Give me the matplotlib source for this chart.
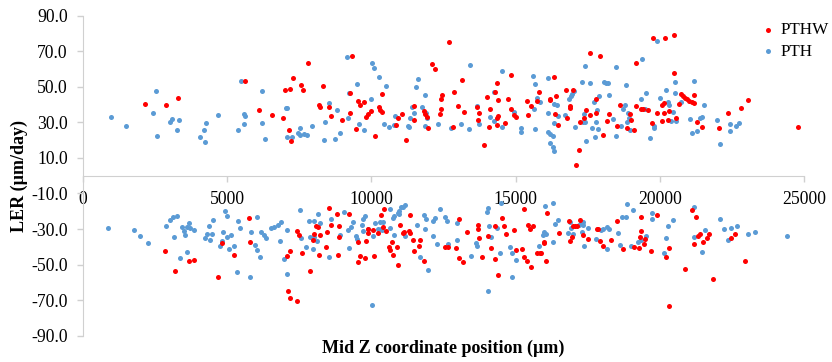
import matplotlib
matplotlib.use('Agg')
import matplotlib.pyplot as plt

# PTHW (red) - growth side, (mid Z position um, LER um/day)
pthw_up = [
    (2150, 40.1), (2870, 39.9), (3300, 43.9), (5630, 53.1), (6100, 37.1), (6540, 34.3),
    (6940, 32.4), (7000, 48.0), (7180, 48.6), (7270, 54.9), (7570, 51.2), (7640, 48.0),
    (7810, 63.2), (7130, 25.5), (7200, 19.7), (8200, 39.8), (8210, 38.5), (8330, 50.5),
    (8520, 38.6), (8590, 33.8), (8990, 31.5), (9270, 46.3), (9270, 35.3), (9320, 67.1),
    (9450, 26.4), (9550, 42.2), (9600, 39.9), (9740, 41.6), (9800, 32.8), (9870, 34.5),
    (9980, 36.4), (10140, 22.5), (10280, 38.6), (10290, 37.1), (10360, 46.1), (10360, 35.8),
    (10850, 28.3), (10920, 32.3), (11060, 34.5), (11190, 20.1), (11470, 31.5), (11490, 39.2),
    (11830, 36.4), (11870, 34.5), (11930, 33.0), (11970, 27.0), (12090, 62.6), (12190, 60.2),
    (12370, 34.7), (12410, 42.9), (12430, 37.3), (12450, 45.2), (12680, 75.4), (12840, 27.4),
    (12870, 47.1), (13020, 39.2), (13130, 54.0), (13220, 35.6),
    (13650, 38.5), (13680, 31.1), (13730, 35.3), (13900, 17.3), (14000, 44.5), (14080, 27.6),
    (14120, 37.3), (14280, 46.9), (14360, 52.1), (14390, 42.6), (14390, 33.8), (14370, 32.6),
    (14340, 28.7), (14630, 29.6), (14720, 42.9), (14850, 56.8), (14850, 37.3), (14930, 33.9),
    (15020, 32.8), (15400, 42.0), (15440, 34.3), (15530, 39.4), (15750, 42.2), (15800, 47.1),
    (16180, 42.4), (16200, 43.3), (16330, 55.3), (16350, 34.7), (16410, 44.6), (16480, 28.3),
    (16750, 48.0), (16780, 32.4), (16870, 39.0), (16880, 37.9), (16990, 48.4), (17100, 6.2),
    (17210, 14.6), (17220, 30.0), (17380, 32.4), (17430, 36.9), (17580, 69.2), (17590, 34.1),
    (17780, 35.4), (17790, 43.1), (17940, 67.1), (18040, 22.9), (18170, 30.9), (18230, 34.7),
    (18520, 27.9), (18610, 39.6), (18860, 26.8), (18970, 34.5), (19010, 31.3), (19120, 25.9),
    (19180, 63.4), (19190, 39.2), (19360, 37.3), (19430, 37.7), (19580, 37.1), (19720, 29.4),
    (19780, 77.5),
    (20170, 77.5), (20490, 79.3), (20490, 57.9), (20750, 45.9), (20820, 44.8), (20880, 43.9),
    (20940, 42.9), (21020, 42.0), (21100, 41.4), (21170, 41.1), (21180, 45.6), (20650, 40.1),
    (20090, 39.6), (20150, 41.1), (20330, 36.6), (19910, 35.5), (20150, 35.1), (20090, 30.9),
    (20280, 31.3), (20550, 32.3), (21300, 30.4), (21460, 27.4), (22040, 27.0), (22360, 35.1),
    (22820, 37.9), (23050, 42.6), (24800, 27.6),
]

# PTHW (red) - negative side
pthw_down = [
    (2850, -42.2), (3180, -53.8), (3680, -48.0), (3860, -47.2), (4690, -56.8), (4820, -37.9),
    (5240, -44.6), (5770, -23.8), (5790, -37.3),
    (7070, -45.0), (7120, -65.0), (7190, -68.8), (7190, -42.5), (7420, -30.9), (7430, -70.7),
    (7500, -33.5), (7600, -43.5), (7880, -53.6), (7970, -36.4), (8020, -32.8), (8070, -28.5),
    (8150, -28.9), (8180, -44.4), (8230, -33.5), (8440, -39.9), (8450, -31.9), (8530, -18.0),
    (8600, -27.9), (8810, -21.4), (8830, -44.6), (8880, -28.5), (8860, -34.5), (9220, -21.5),
    (9550, -37.3), (9550, -48.4), (9610, -45.4), (9780, -46.1), (9810, -36.9), (9870, -30.0),
    (9880, -32.2), (10040, -30.7), (10080, -45.2), (10230, -32.2), (10350, -22.1), (10390, -28.7),
    (10440, -18.7), (10520, -31.1), (10620, -39.9), (10660, -41.8), (10700, -37.5), (10750, -44.8),
    (10900, -40.3), (10910, -50.2), (10980, -27.9), (11100, -32.2), (11130, -31.9), (11290, -31.3),
    (11330, -32.0), (11350, -22.0), (11430, -36.0), (11460, -42.2), (11660, -39.4), (11700, -36.2),
    (11830, -48.0), (12560, -40.3), (12660, -40.3), (12930, -40.7), (13030, -24.4), (13040, -46.5),
    (13170, -48.5),
    (13320, -31.7), (13680, -27.7), (13690, -30.2), (13730, -35.0), (13830, -45.5), (14050, -33.9),
    (14130, -40.7), (14270, -28.5), (14270, -46.7), (14400, -55.9), (14540, -23.6), (14610, -28.5),
    (14680, -32.6), (14940, -30.5), (15000, -42.0), (15210, -41.4), (15290, -18.9), (15300, -45.9),
    (15390, -48.0), (15420, -27.5), (15500, -30.2), (15550, -51.2), (15600, -28.5), (15740, -43.3),
    (15830, -43.3), (15880, -43.7), (15970, -37.7), (15990, -37.1), (16050, -48.2), (16090, -21.2),
    (16490, -32.2), (16860, -25.7), (16900, -36.5), (16970, -34.7), (16980, -28.1), (17060, -28.1),
    (17120, -28.1), (17240, -24.7), (17350, -33.4), (17520, -35.8), (17810, -30.2), (17870, -30.2),
    (17930, -36.7), (18040, -39.5), (18320, -36.4), (18520, -25.5), (18710, -41.1), (19110, -40.3),
    (19280, -40.5), (19300, -34.7), (19350, -30.9), (19360, -23.4), (19450, -38.2), (19490, -35.8),
    (19700, -42.2),
    (19910, -22.0), (20200, -45.7), (20310, -40.9), (20310, -73.3), (20860, -52.3), (21120, -19.3),
    (21170, -38.4), (21270, -23.4), (21340, -33.7), (21390, -32.8), (21500, -37.3), (21640, -35.2),
    (21690, -32.8), (21830, -57.9), (22480, -35.2), (22610, -32.6), (22940, -47.8),
]

# PTH (blue) - positive side
pth_up = [
    (970, 33.2), (1500, 27.8), (2420, 35.1), (2530, 47.6), (2570, 22.3), (3000, 30.4),
    (3080, 31.7), (3250, 25.5), (3340, 31.5), (4050, 21.6), (4180, 25.5), (4230, 19.1),
    (4260, 29.6), (4690, 33.9), (5370, 25.5), (5480, 53.4), (5570, 29.3), (5580, 34.5),
    (5620, 33.6), (6190, 29.8), (6210, 47.5), (6320, 20.6),
    (7050, 38.3), (7080, 38.3), (7070, 21.9), (7250, 21.9), (7450, 23.8), (7520, 26.6),
    (7520, 22.9), (7660, 23.3), (7770, 22.9), (7940, 28.1), (8360, 20.1), (8390, 30.2),
    (8520, 40.9), (8730, 20.8), (8800, 37.1), (8920, 24.0), (9140, 66.8), (9210, 46.3),
    (9200, 32.4), (9510, 51.6), (9580, 28.9), (9760, 25.7), (10000, 43.3), (10030, 63.6),
    (10090, 60.4), (10260, 55.7), (10440, 29.1), (10510, 50.6), (10620, 27.4), (10770, 28.7),
    (10820, 33.6), (11270, 27.9), (11320, 27.6), (11330, 32.3), (11400, 38.5), (11460, 35.1),
    (11550, 49.9), (11610, 54.6), (11770, 38.6), (11870, 45.2), (11870, 28.1), (11880, 35.1),
    (11940, 32.3), (12310, 28.9), (12750, 26.6), (13090, 28.9),
    (13380, 26.3), (13430, 62.3), (13650, 39.4), (13730, 29.3), (14100, 33.2), (14250, 47.1),
    (14240, 30.6), (14540, 58.9), (14520, 27.6), (14960, 36.0), (15180, 26.8), (15200, 24.4),
    (15620, 56.3), (15640, 37.5), (15680, 51.6), (15680, 26.4), (15740, 43.7), (15860, 41.4),
    (16120, 54.9), (16140, 35.1), (16140, 24.8), (16210, 23.5), (16290, 22.3), (16210, 18.2),
    (16280, 16.1), (16330, 13.7), (16330, 40.5), (16430, 39.9), (16340, 29.8), (16460, 33.6),
    (16720, 34.1), (16840, 42.9), (16910, 44.8), (16940, 45.8), (17010, 47.6), (17060, 27.6),
    (17300, 52.9), (17350, 30.0), (17420, 30.2), (17370, 34.5), (17420, 61.7), (17450, 19.7),
    (17590, 51.9), (17640, 27.0), (17730, 41.6), (17760, 21.6), (17790, 30.4), (17820, 37.1),
    (17860, 26.4), (17880, 45.0), (18070, 52.5), (18120, 52.1), (18190, 51.9), (18250, 45.2),
    (18370, 31.9), (18480, 60.9), (18490, 22.1), (18660, 27.8), (18720, 37.3), (18780, 39.9),
    (18840, 51.0), (18850, 30.2), (18890, 35.1), (18930, 32.4), (18980, 25.9), (19360, 43.1),
    (19400, 65.5), (19470, 37.7), (19510, 46.5), (19660, 21.0), (19810, 27.9), (19790, 26.6),
    (19910, 75.8), (20010, 43.7), (20210, 48.0), (20280, 41.3), (20320, 39.8), (20390, 30.8),
    (20460, 35.6), (20510, 52.5), (20530, 46.3), (20570, 30.8), (20750, 41.6), (21050, 32.1),
    (21130, 23.8), (21200, 53.1), (21300, 25.3), (21410, 32.3), (21480, 33.2), (21520, 39.6),
    (21970, 31.5), (22090, 18.0), (22420, 25.3), (22450, 29.3), (22640, 28.1), (22750, 29.4),
]

# PTH (blue) - negative side
pth_down = [
    (880, -29.4), (1780, -30.4), (1980, -34.1), (2240, -37.9), (2870, -28.3), (3000, -25.1),
    (3120, -23.4), (3250, -22.5), (3140, -34.5), (3370, -46.3), (3440, -28.9), (3490, -31.3),
    (3550, -33.4), (3610, -28.9), (3690, -26.4), (3710, -29.2), (3620, -43.1), (3840, -30.4),
    (4220, -35.0), (4290, -32.8), (4370, -28.5), (4420, -36.4), (4480, -32.6), (4520, -24.9),
    (4760, -39.4), (4820, -36.7), (4870, -31.9), (4910, -20.0), (4980, -34.7), (5010, -22.7),
    (5070, -41.4), (5140, -33.2), (5220, -39.4), (5330, -54.2), (5390, -25.5), (5460, -29.4),
    (5790, -56.8), (5840, -31.9), (5970, -38.8), (6020, -23.0), (6030, -41.6), (6120, -45.5),
    (6170, -31.5), (6260, -33.4), (6340, -35.0), (6530, -29.4), (6630, -28.7),
    (6760, -27.9), (6850, -25.9), (6820, -36.5), (6980, -46.9), (7060, -55.5), (7090, -30.4),
    (7510, -19.5), (7550, -34.9), (7730, -40.3), (7820, -25.7), (7880, -34.5), (8010, -34.3),
    (7960, -41.2), (8010, -25.5), (8120, -36.5), (8150, -21.5), (8220, -26.8), (8530, -45.5),
    (8600, -24.2), (8910, -33.5), (9040, -20.6), (9200, -30.5), (9290, -28.7), (9240, -40.9),
    (9350, -25.9), (9470, -33.9), (9500, -35.6), (9670, -27.5), (9700, -31.3), (9720, -24.5),
    (9780, -22.5), (9880, -30.0), (10020, -72.9), (10070, -33.7), (10130, -26.4), (10230, -30.0),
    (10300, -26.0), (10400, -26.0), (10330, -30.0), (10370, -30.5), (10630, -18.5), (10650, -29.2),
    (10760, -24.0), (10800, -33.4), (10790, -22.5), (10920, -20.8), (10970, -21.7), (10950, -20.0),
    (11020, -17.6), (11090, -17.4), (11180, -16.5), (11160, -33.9), (11570, -27.5), (11700, -45.5),
    (11830, -21.9), (11860, -30.2), (11910, -24.4), (11970, -53.2), (12130, -25.3), (12140, -33.7),
    (12210, -24.0), (12290, -38.2), (12370, -18.9), (12560, -23.0), (12610, -25.5), (12640, -38.2),
    (12960, -26.4), (12960, -36.4),
    (13460, -45.2), (13610, -37.9), (13650, -39.5), (14000, -20.2), (14050, -18.4), (14030, -65.0),
    (14070, -28.5), (14130, -34.5), (14360, -29.6), (14460, -43.7), (14510, -15.2), (14810, -40.1),
    (14870, -43.3), (14890, -57.2), (15000, -47.4), (15800, -39.5), (15940, -33.5), (15970, -31.5),
    (16060, -32.8), (16020, -16.9), (16310, -15.4), (16310, -37.1), (16360, -27.4), (16470, -24.9),
    (16820, -32.4), (16870, -26.2), (16920, -29.4), (16990, -32.8), (17190, -27.9), (17280, -26.6),
    (17340, -25.9), (17340, -27.9), (17310, -31.5), (17380, -39.5), (17520, -29.6), (17790, -35.8),
    (17970, -30.7), (18030, -30.2), (18180, -28.7), (18250, -30.0), (18160, -41.4), (18550, -32.2),
    (18620, -39.2), (18690, -23.4), (18830, -23.4), (18860, -15.7), (19010, -39.4), (19070, -19.5),
    (19250, -37.3), (19360, -36.4), (19520, -33.7), (19720, -24.4), (19740, -20.8),
    (20220, -35.0), (20150, -43.3), (20300, -28.5), (20450, -25.1), (21180, -17.6), (21170, -34.7),
    (21460, -43.1), (21570, -30.4), (22100, -24.2), (22230, -30.2), (22350, -36.2), (22480, -29.6),
    (22660, -28.5), (23070, -32.8), (23300, -31.9), (24420, -34.1),
]

x_ticks = [0, 5000, 10000, 15000, 20000, 25000]
y_ticks = [-90, -70, -50, -30, -10, 10, 30, 50, 70, 90]

plt.rcParams['font.family'] = ['Liberation Serif', 'DejaVu Serif']

fig = plt.figure(figsize=(8.32, 3.62), dpi=100)
ax = fig.add_axes([83 / 832, 1 - 335.7 / 362, 721 / 832, 320 / 362])

pth_x, pth_y = zip(*(pth_up + pth_down))
pthw_x, pthw_y = zip(*(pthw_up + pthw_down))

h_pth = ax.scatter(pth_x, pth_y, s=13, color='#5B9BD5', linewidths=0, label='PTH', zorder=3)
h_pthw = ax.scatter(pthw_x, pthw_y, s=13, color='#FF0000', linewidths=0, label='PTHW', zorder=4)

ax.set_xlim(0, 25000)
ax.set_ylim(-90, 90)
ax.set_xticks(x_ticks)
ax.set_yticks(y_ticks)
ax.set_yticklabels(['%.1f' % v for v in y_ticks])

grey = '#D0D0D0'
ax.spines['top'].set_visible(False)
ax.spines['right'].set_visible(False)
ax.spines['left'].set_color(grey)
ax.spines['bottom'].set_color(grey)
ax.spines['bottom'].set_position(('data', 0))
ax.tick_params(axis='both', colors=grey, labelcolor='black', labelsize=12.7, length=4, width=1)
ax.tick_params(axis='y', pad=7)
ax.tick_params(axis='x', pad=7)

ax.set_ylabel('LER (µm/day)', fontsize=13, fontweight='bold', labelpad=2)
fig.text(443 / 832, 1 - 348 / 362, 'Mid Z coordinate position (µm)', fontsize=13,
         fontweight='bold', ha='center', va='center')

fig.legend([h_pthw, h_pth], ['PTHW', 'PTH'], loc='upper left',
           bbox_to_anchor=(763 / 832, 1 - 22 / 362), frameon=False, fontsize=12.3,
           handlelength=0.6, handletextpad=0.4, labelspacing=0.35, borderaxespad=0,
           borderpad=0, markerscale=1.0)

fig.savefig('out.png', dpi=100)
